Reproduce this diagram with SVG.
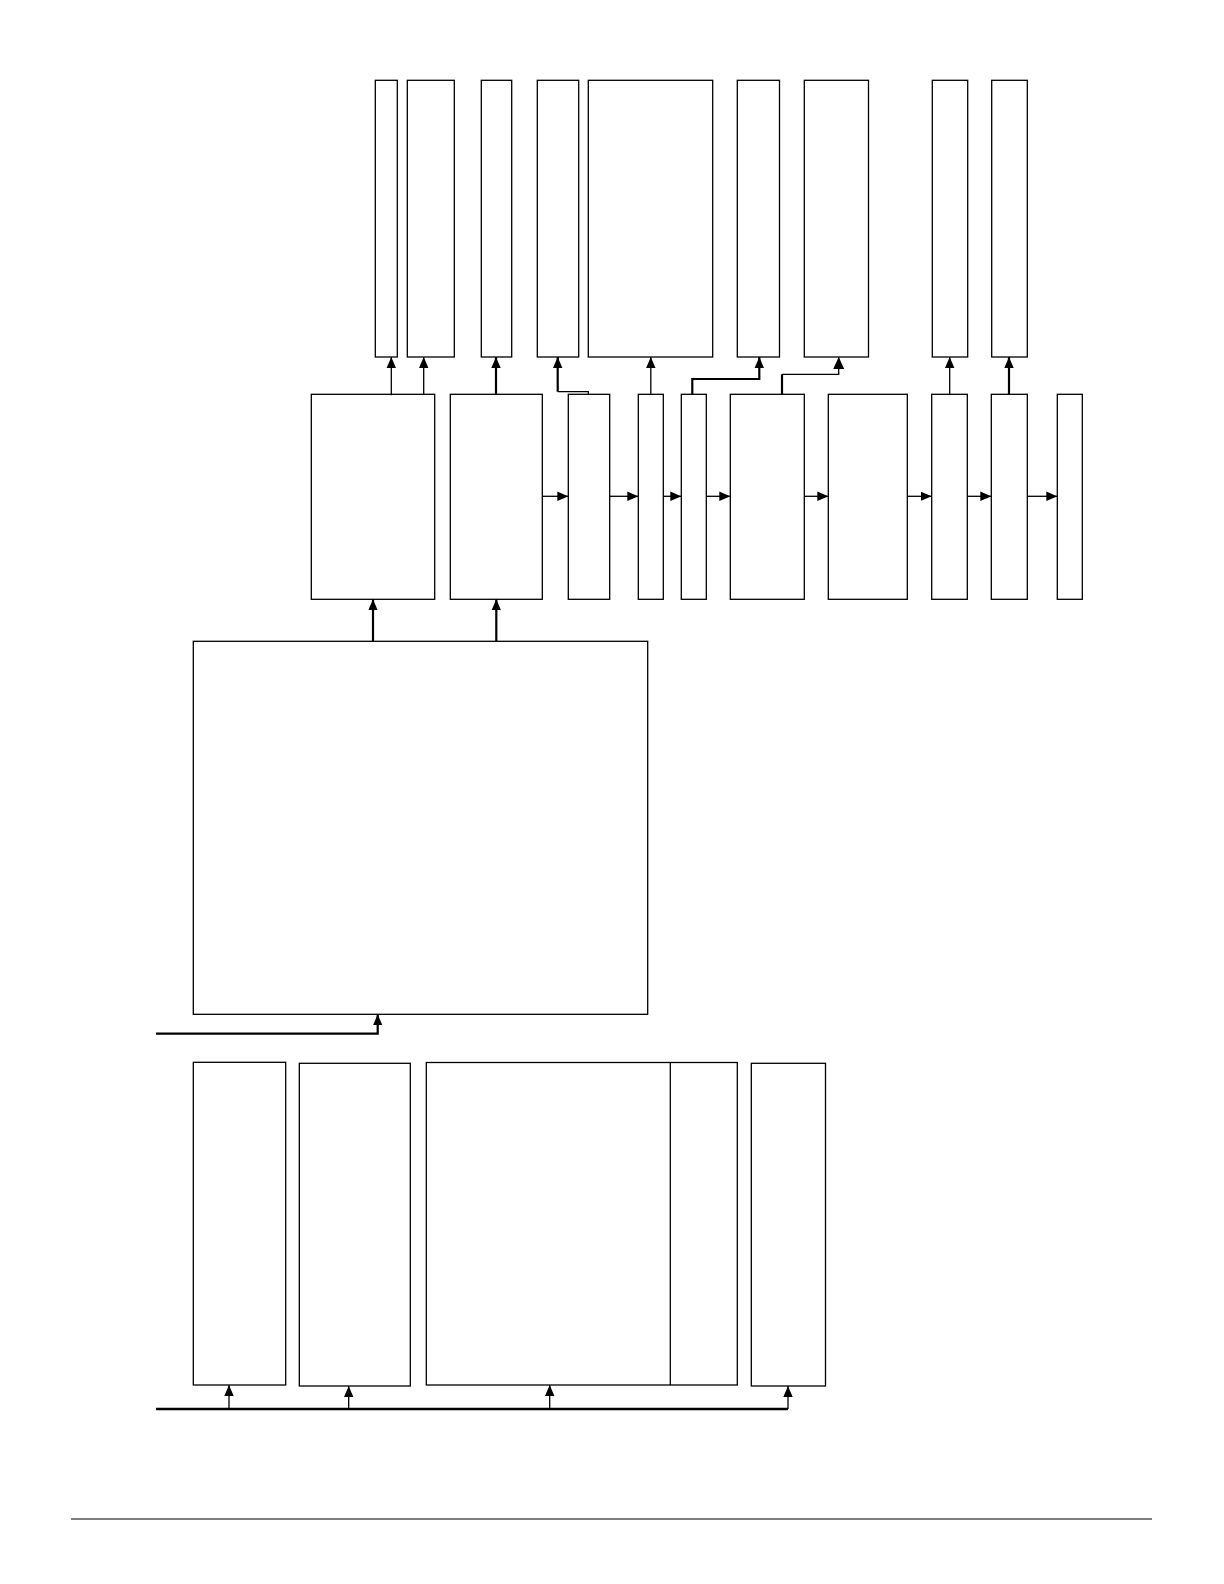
<svg xmlns="http://www.w3.org/2000/svg" width="1224" height="1584" viewBox="0 0 1224 1584">
<style>
.n rect{fill:#fff;stroke:#000;stroke-width:1.3}
.n line{stroke:#000;stroke-width:1.3}
.c path{fill:none;stroke:#000;stroke-width:1.3}
.c .t{stroke-width:2.2}
.c .b{stroke-width:2.6}
</style>
<defs>
<marker id="ah" markerUnits="userSpaceOnUse" markerWidth="11" markerHeight="11" viewBox="0 0 11 11" refX="11" refY="5.5" orient="auto">
<path d="M0,0.8 L11,5.5 L0,10.2 z" fill="#000"/>
</marker>
<marker id="ahL" markerUnits="userSpaceOnUse" markerWidth="12" markerHeight="12" viewBox="0 0 12 12" refX="12" refY="6" orient="auto">
<path d="M0,0.5 L12,6 L0,11.5 z" fill="#000"/>
</marker>
</defs>
<rect width="1224" height="1584" fill="#fff"/>
<g id="topRow" class="n">
<g id="t1"><rect x="375.3" y="80.3" width="22" height="276.7"/></g>
<g id="t2"><rect x="407.3" y="80.3" width="47" height="276.7"/></g>
<g id="t3"><rect x="481.3" y="80.3" width="30.4" height="276.7"/></g>
<g id="t4"><rect x="537.3" y="80.3" width="41.4" height="276.7"/></g>
<g id="t5"><rect x="588.3" y="80.3" width="124.4" height="276.7"/></g>
<g id="t6"><rect x="737.3" y="80.3" width="42.2" height="276.7"/></g>
<g id="t7"><rect x="804.3" y="80.3" width="64.2" height="276.7"/></g>
<g id="t8"><rect x="932.3" y="80.3" width="35.4" height="276.7"/></g>
<g id="t9"><rect x="991.7" y="80.3" width="35.6" height="276.7"/></g>
</g>
<g id="midRow" class="n">
<g id="m1"><rect x="311.3" y="394.3" width="123.4" height="205"/></g>
<g id="m2"><rect x="450.3" y="394.3" width="92" height="205"/></g>
<g id="m3"><rect x="568.3" y="394.3" width="41.4" height="205"/></g>
<g id="m4"><rect x="638.3" y="394.3" width="25" height="205"/></g>
<g id="m5"><rect x="681.3" y="394.3" width="25" height="205"/></g>
<g id="m6"><rect x="730.3" y="394.3" width="74" height="205"/></g>
<g id="m7"><rect x="828.3" y="394.3" width="79" height="205"/></g>
<g id="m8"><rect x="931.7" y="394.3" width="35.6" height="205"/></g>
<g id="m9"><rect x="991.3" y="394.3" width="36" height="205"/></g>
<g id="m10"><rect x="1057.3" y="394.3" width="25" height="205"/></g>
</g>
<g id="big" class="n"><rect x="193.3" y="641.3" width="454.4" height="373"/></g>
<g id="bottomRow" class="n">
<g id="b1"><rect x="193.3" y="1062.3" width="92.4" height="322.7"/></g>
<g id="b2"><rect x="299.3" y="1063.3" width="111" height="322.7"/></g>
<g id="b3"><rect x="426.3" y="1062.5" width="311" height="322.5"/><line x1="670.3" y1="1062.5" x2="670.3" y2="1385"/></g>
<g id="b4"><rect x="751.3" y="1063.3" width="74.2" height="322.7"/></g>
</g>
<g id="connectors" class="c">
<path class="t" d="M156,1033.7 H377.7 V1014.3" marker-end="url(#ah)"/>
<path class="b" d="M156,1409 H788"/>
<path d="M229,1409 V1385" marker-end="url(#ah)"/>
<path d="M348.7,1409 V1386" marker-end="url(#ah)"/>
<path d="M549.7,1409 V1385" marker-end="url(#ah)"/>
<path d="M788,1409 V1386" marker-end="url(#ah)"/>
<path class="t" d="M373,641.3 V599.3" marker-end="url(#ah)"/>
<path class="t" d="M496.3,641.3 V599.3" marker-end="url(#ah)"/>
<path d="M391.3,395.3 V357" marker-end="url(#ah)"/>
<path d="M423.7,394.3 V357" marker-end="url(#ah)"/>
<path class="t" d="M496,394.3 V357" marker-end="url(#ah)"/>
<path d="M588.3,394.3 V391.7 H557.7"/>
<path class="t" d="M557.7,391.7 V357" marker-end="url(#ah)"/>
<path d="M650.8,394.3 V357" marker-end="url(#ah)"/>
<path class="t" d="M692.3,394.3 V379 H759.3 V357" marker-end="url(#ah)"/>
<path class="t" d="M782,395 V374.3"/>
<path d="M782,374.3 H838.7 V357" marker-end="url(#ahL)"/>
<path d="M949.7,394.3 V357" marker-end="url(#ah)"/>
<path class="t" d="M1009,394.3 V357" marker-end="url(#ah)"/>
<path d="M542.3,496.3 H568.3" marker-end="url(#ah)"/>
<path d="M609.7,496.3 H638.3" marker-end="url(#ah)"/>
<path d="M663.3,496.3 H681.3" marker-end="url(#ah)"/>
<path d="M706.3,496.3 H730.3" marker-end="url(#ah)"/>
<path d="M804.3,496.3 H828.3" marker-end="url(#ah)"/>
<path d="M907.3,496.3 H931.7" marker-end="url(#ah)"/>
<path d="M967.3,496.3 H991.3" marker-end="url(#ah)"/>
<path d="M1027.3,496.3 H1057.3" marker-end="url(#ah)"/>
</g>
<line x1="71" y1="1519" x2="1152" y2="1519" stroke="#555" stroke-width="1.3"/>
</svg>
